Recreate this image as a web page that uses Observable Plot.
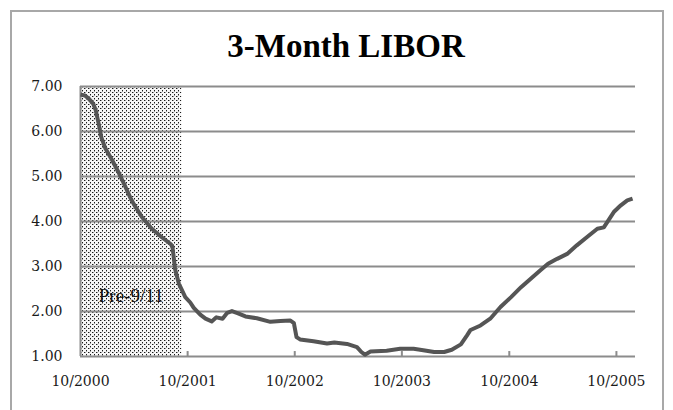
<!DOCTYPE html>
<html>
<head>
<meta charset="utf-8">
<script src="https://cdn.jsdelivr.net/npm/d3@7"></script>
<script src="https://cdn.jsdelivr.net/npm/@observablehq/plot@0.6"></script>
<style>
  body { margin: 0; background: #fff; width: 673px; height: 410px; overflow: hidden; position: relative; }
  #frame { position: absolute; left: 10px; top: 10px; width: 654px; height: 430px; border: 2px solid #a8a8a8; box-sizing: border-box; }
  #title { position: absolute; left: 0; top: 30px; width: 692px; text-align: center;
           font-family: "Liberation Serif", serif; font-weight: bold; font-size: 33px; line-height: 33px; color: #000; }
  #chart { position: absolute; left: 0; top: 60px; }
</style>
</head>
<body>
<div id="frame"></div>
<div id="title">3-Month LIBOR</div>
<div id="chart"></div>
<script>
// ---- data ----
const dates = [
  "2000-10-01","2000-10-16","2000-10-29","2000-11-13","2000-11-22","2000-12-02","2000-12-11","2000-12-25",
  "2001-01-17","2001-02-10","2001-02-26","2001-03-19","2001-04-01","2001-04-28","2001-06-01","2001-07-05",
  "2001-08-04","2001-08-10","2001-08-14","2001-08-19","2001-09-01","2001-09-23","2001-10-10","2001-10-22",
  "2001-11-13","2001-12-01","2001-12-22","2002-01-07","2002-01-28","2002-02-13","2002-03-01","2002-03-22",
  "2002-04-16","2002-05-25","2002-07-10","2002-08-13","2002-09-16","2002-09-28","2002-10-07","2002-10-19",
  "2002-12-04","2003-01-19","2003-02-13","2003-03-28","2003-05-01","2003-05-16","2003-05-28","2003-06-16",
  "2003-08-10","2003-09-25","2003-11-10","2003-12-13","2004-01-19","2004-02-22","2004-03-19","2004-04-19",
  "2004-05-10","2004-05-22","2004-06-25","2004-07-28","2004-09-01","2004-10-07","2004-11-10","2004-12-13",
  "2005-01-16","2005-02-10","2005-03-13","2005-04-16","2005-05-19","2005-06-22","2005-07-28","2005-08-19",
  "2005-09-07","2005-09-22","2005-10-16","2005-11-07","2005-11-25"
];
const libor = [
  6.82, 6.80, 6.73, 6.62, 6.47, 6.17, 5.87, 5.62,
  5.36, 5.06, 4.84, 4.54, 4.38, 4.10, 3.84, 3.65,
  3.50, 3.45, 3.24, 2.95, 2.62, 2.32, 2.20, 2.08,
  1.93, 1.84, 1.78, 1.87, 1.84, 1.97, 2.01, 1.96,
  1.89, 1.85, 1.77, 1.79, 1.80, 1.74, 1.43, 1.38,
  1.34, 1.29, 1.31, 1.28, 1.21, 1.10, 1.04, 1.11,
  1.13, 1.17, 1.17, 1.14, 1.10, 1.10, 1.15, 1.27,
  1.47, 1.59, 1.69, 1.84, 2.10, 2.32, 2.54, 2.73,
  2.92, 3.06, 3.17, 3.28, 3.47, 3.65, 3.84, 3.87,
  4.06, 4.21, 4.36, 4.47, 4.51
];
const xTickDates  = ["2000-10-01","2001-10-01","2002-10-01","2003-10-01","2004-10-01","2005-10-01"];
const xTickLabels = ["10/2000","10/2001","10/2002","10/2003","10/2004","10/2005"];
const yTicks      = [1, 2, 3, 4, 5, 6, 7];
const yTickLabels = ["1.00","2.00","3.00","4.00","5.00","6.00","7.00"];
const xDomain     = ["2000-10-01", "2005-12-05"];
const shadeStart  = "2000-10-01";
const shadeEnd    = "2001-09-11";
const shadeLabel  = "Pre-9/11";
const shadeLabelY = 2.35;

// ---- build ----
const parse = s => new Date(s + "T00:00:00Z");
const series = dates.map((d, i) => ({date: parse(d), value: libor[i]}));
const tickD = xTickDates.map(parse);
const shade = [{x1: parse(shadeStart), x2: parse(shadeEnd), y1: yTicks[0], y2: yTicks[yTicks.length - 1]}];
const labelPos = [{x: new Date((parse(shadeStart).getTime() + parse(shadeEnd).getTime()) / 2), y: shadeLabelY, text: shadeLabel}];

const defs = () => {
  const g = d3.create("svg:defs");
  const p = g.append("pattern").attr("id", "dots").attr("patternUnits", "userSpaceOnUse")
    .attr("width", 4).attr("height", 4);
  p.append("rect").attr("width", 4).attr("height", 4).attr("fill", "#f6f6f6");
  p.append("rect").attr("x", 0).attr("y", 0).attr("width", 1).attr("height", 1).attr("fill", "#1a1a1a");
  p.append("rect").attr("x", 2).attr("y", 2).attr("width", 1).attr("height", 1).attr("fill", "#1a1a1a");
  p.append("rect").attr("x", 1).attr("y", 0).attr("width", 1).attr("height", 1).attr("fill", "#9a9a9a");
  p.append("rect").attr("x", 2).attr("y", 3).attr("width", 1).attr("height", 1).attr("fill", "#9a9a9a");
  return g.node();
};

const chart = Plot.plot({
  width: 673,
  height: 350,
  marginLeft: 80,
  marginRight: 38,
  marginTop: 26,
  marginBottom: 54,
  style: {fontFamily: "'DejaVu Serif', serif", fontSize: "14px", color: "#1a1a1a", background: "transparent"},
  x: {type: "utc", domain: xDomain.map(parse)},
  y: {domain: [yTicks[0], yTicks[yTicks.length - 1]]},
  marks: [
    defs,
    Plot.rect(shade, {x1: "x1", x2: "x2", y1: "y1", y2: "y2", fill: "url(#dots)"}),
    Plot.text(labelPos, {x: "x", y: "y", text: "text", fontFamily: "'Liberation Serif', serif", fontSize: 19, fill: "#111"}),
    Plot.ruleY(yTicks, {stroke: "#8c8c8c", strokeWidth: 2}),
    Plot.ruleX([parse(xDomain[0])], {y1: yTicks[0], y2: yTicks[yTicks.length - 1], stroke: "#8c8c8c", strokeWidth: 2}),
    Plot.ruleX(tickD.slice(1), {y1: yTicks[0], y2: yTicks[0] + 0.11, stroke: "#8c8c8c", strokeWidth: 2}),
    Plot.line(series, {x: "date", y: "value", stroke: "#555", strokeWidth: 4, strokeLinejoin: "round", strokeLinecap: "butt"}),
    Plot.axisX({ticks: tickD, tickSize: 0, tickPadding: 20, label: null,
      tickFormat: d => xTickLabels[tickD.findIndex(t => +t === +d)]}),
    Plot.axisY({ticks: yTicks, tickSize: 0, tickPadding: 18, label: null,
      tickFormat: d => yTickLabels[yTicks.indexOf(d)]})
  ]
});
document.getElementById("chart").appendChild(chart);
</script>
</body>
</html>
